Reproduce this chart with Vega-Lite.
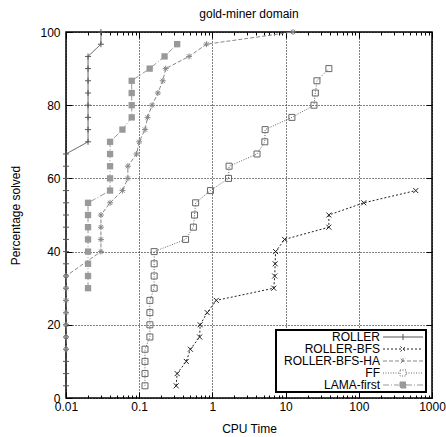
{
  "$schema": "https://vega.github.io/schema/vega-lite/v6.json",
  "width": 366,
  "height": 366,
  "autosize": {"type": "none"},
  "padding": {"left": 66, "top": 32, "right": 14, "bottom": 39},
  "background": "white",
  "title": {"text": "gold-miner domain", "fontSize": 12, "font": "Liberation Sans", "fontWeight": "normal", "color": "black", "offset": 5},
  "config": {
    "view": {"stroke": "black", "strokeWidth": 1.5},
    "axis": {"labelFont": "Liberation Sans", "labelFontSize": 12, "labelColor": "black", "titleFont": "Liberation Sans", "titleFontSize": 12, "titleFontWeight": "normal", "titleColor": "black", "domain": false, "tickColor": "black", "tickWidth": 1, "gridColor": "black", "gridDash": [1, 2], "gridWidth": 1, "gridOpacity": 1},
    "legend": {"orient": "bottom-right", "offset": 6, "fillColor": "white", "strokeColor": "black", "padding": 1, "labelFont": "Liberation Sans", "labelFontSize": 12, "labelColor": "black", "symbolSize": 100, "rowPadding": 0, "symbolStrokeWidth": 1, "symbolType": "stroke"}
  },
  "data": {"values": [
    {"solver": "ROLLER", "time": 0.01, "solved": 3.33},
    {"solver": "ROLLER", "time": 0.01, "solved": 6.67},
    {"solver": "ROLLER", "time": 0.01, "solved": 10},
    {"solver": "ROLLER", "time": 0.01, "solved": 13.33},
    {"solver": "ROLLER", "time": 0.01, "solved": 16.67},
    {"solver": "ROLLER", "time": 0.01, "solved": 20},
    {"solver": "ROLLER", "time": 0.01, "solved": 23.33},
    {"solver": "ROLLER", "time": 0.01, "solved": 26.67},
    {"solver": "ROLLER", "time": 0.01, "solved": 30},
    {"solver": "ROLLER", "time": 0.01, "solved": 33.33},
    {"solver": "ROLLER", "time": 0.01, "solved": 36.67},
    {"solver": "ROLLER", "time": 0.01, "solved": 40},
    {"solver": "ROLLER", "time": 0.01, "solved": 43.33},
    {"solver": "ROLLER", "time": 0.01, "solved": 46.67},
    {"solver": "ROLLER", "time": 0.01, "solved": 50},
    {"solver": "ROLLER", "time": 0.01, "solved": 53.33},
    {"solver": "ROLLER", "time": 0.01, "solved": 56.67},
    {"solver": "ROLLER", "time": 0.01, "solved": 60},
    {"solver": "ROLLER", "time": 0.01, "solved": 63.33},
    {"solver": "ROLLER", "time": 0.01, "solved": 66.67},
    {"solver": "ROLLER", "time": 0.02, "solved": 70},
    {"solver": "ROLLER", "time": 0.02, "solved": 73.33},
    {"solver": "ROLLER", "time": 0.02, "solved": 76.67},
    {"solver": "ROLLER", "time": 0.02, "solved": 80},
    {"solver": "ROLLER", "time": 0.02, "solved": 83.33},
    {"solver": "ROLLER", "time": 0.02, "solved": 86.67},
    {"solver": "ROLLER", "time": 0.02, "solved": 90},
    {"solver": "ROLLER", "time": 0.02, "solved": 93.33},
    {"solver": "ROLLER", "time": 0.03, "solved": 96.67},
    {"solver": "ROLLER", "time": 0.03, "solved": 100},
    {"solver": "ROLLER-BFS", "time": 0.32, "solved": 3.33},
    {"solver": "ROLLER-BFS", "time": 0.33, "solved": 6.67},
    {"solver": "ROLLER-BFS", "time": 0.44, "solved": 10},
    {"solver": "ROLLER-BFS", "time": 0.5, "solved": 13.33},
    {"solver": "ROLLER-BFS", "time": 0.67, "solved": 16.67},
    {"solver": "ROLLER-BFS", "time": 0.68, "solved": 20},
    {"solver": "ROLLER-BFS", "time": 0.85, "solved": 23.33},
    {"solver": "ROLLER-BFS", "time": 1.13, "solved": 26.67},
    {"solver": "ROLLER-BFS", "time": 6.9, "solved": 30},
    {"solver": "ROLLER-BFS", "time": 7.1, "solved": 33.33},
    {"solver": "ROLLER-BFS", "time": 7.2, "solved": 36.67},
    {"solver": "ROLLER-BFS", "time": 7.3, "solved": 40},
    {"solver": "ROLLER-BFS", "time": 9.7, "solved": 43.33},
    {"solver": "ROLLER-BFS", "time": 39, "solved": 46.67},
    {"solver": "ROLLER-BFS", "time": 39, "solved": 50},
    {"solver": "ROLLER-BFS", "time": 117, "solved": 53.33},
    {"solver": "ROLLER-BFS", "time": 600, "solved": 56.67},
    {"solver": "ROLLER-BFS-HA", "time": 0.01, "solved": 13.33},
    {"solver": "ROLLER-BFS-HA", "time": 0.01, "solved": 16.67},
    {"solver": "ROLLER-BFS-HA", "time": 0.01, "solved": 20},
    {"solver": "ROLLER-BFS-HA", "time": 0.01, "solved": 23.33},
    {"solver": "ROLLER-BFS-HA", "time": 0.01, "solved": 26.67},
    {"solver": "ROLLER-BFS-HA", "time": 0.01, "solved": 30},
    {"solver": "ROLLER-BFS-HA", "time": 0.01, "solved": 33.33},
    {"solver": "ROLLER-BFS-HA", "time": 0.03, "solved": 40},
    {"solver": "ROLLER-BFS-HA", "time": 0.03, "solved": 43.33},
    {"solver": "ROLLER-BFS-HA", "time": 0.03, "solved": 46.67},
    {"solver": "ROLLER-BFS-HA", "time": 0.03, "solved": 50},
    {"solver": "ROLLER-BFS-HA", "time": 0.04, "solved": 53.33},
    {"solver": "ROLLER-BFS-HA", "time": 0.059, "solved": 56.67},
    {"solver": "ROLLER-BFS-HA", "time": 0.07, "solved": 60},
    {"solver": "ROLLER-BFS-HA", "time": 0.07, "solved": 63.33},
    {"solver": "ROLLER-BFS-HA", "time": 0.092, "solved": 66.67},
    {"solver": "ROLLER-BFS-HA", "time": 0.1, "solved": 70},
    {"solver": "ROLLER-BFS-HA", "time": 0.12, "solved": 73.33},
    {"solver": "ROLLER-BFS-HA", "time": 0.13, "solved": 76.67},
    {"solver": "ROLLER-BFS-HA", "time": 0.15, "solved": 80},
    {"solver": "ROLLER-BFS-HA", "time": 0.18, "solved": 83.33},
    {"solver": "ROLLER-BFS-HA", "time": 0.21, "solved": 86.67},
    {"solver": "ROLLER-BFS-HA", "time": 0.23, "solved": 90},
    {"solver": "ROLLER-BFS-HA", "time": 0.48, "solved": 93.33},
    {"solver": "ROLLER-BFS-HA", "time": 0.83, "solved": 96.67},
    {"solver": "ROLLER-BFS-HA", "time": 12.6, "solved": 100},
    {"solver": "FF", "time": 0.12, "solved": 3.33},
    {"solver": "FF", "time": 0.12, "solved": 6.67},
    {"solver": "FF", "time": 0.12, "solved": 10},
    {"solver": "FF", "time": 0.12, "solved": 13.33},
    {"solver": "FF", "time": 0.14, "solved": 16.67},
    {"solver": "FF", "time": 0.14, "solved": 20},
    {"solver": "FF", "time": 0.14, "solved": 23.33},
    {"solver": "FF", "time": 0.14, "solved": 26.67},
    {"solver": "FF", "time": 0.16, "solved": 30},
    {"solver": "FF", "time": 0.16, "solved": 33.33},
    {"solver": "FF", "time": 0.16, "solved": 36.67},
    {"solver": "FF", "time": 0.16, "solved": 40},
    {"solver": "FF", "time": 0.43, "solved": 43.33},
    {"solver": "FF", "time": 0.55, "solved": 46.67},
    {"solver": "FF", "time": 0.57, "solved": 50},
    {"solver": "FF", "time": 0.59, "solved": 53.33},
    {"solver": "FF", "time": 0.94, "solved": 56.67},
    {"solver": "FF", "time": 1.66, "solved": 60},
    {"solver": "FF", "time": 1.69, "solved": 63.33},
    {"solver": "FF", "time": 4.07, "solved": 66.67},
    {"solver": "FF", "time": 5.2, "solved": 70},
    {"solver": "FF", "time": 5.25, "solved": 73.33},
    {"solver": "FF", "time": 12.2, "solved": 76.67},
    {"solver": "FF", "time": 24.4, "solved": 80},
    {"solver": "FF", "time": 25.5, "solved": 83.33},
    {"solver": "FF", "time": 26.8, "solved": 86.67},
    {"solver": "FF", "time": 39, "solved": 90},
    {"solver": "LAMA-first", "time": 0.02, "solved": 30},
    {"solver": "LAMA-first", "time": 0.02, "solved": 33.33},
    {"solver": "LAMA-first", "time": 0.02, "solved": 36.67},
    {"solver": "LAMA-first", "time": 0.02, "solved": 40},
    {"solver": "LAMA-first", "time": 0.02, "solved": 43.33},
    {"solver": "LAMA-first", "time": 0.02, "solved": 46.67},
    {"solver": "LAMA-first", "time": 0.02, "solved": 50},
    {"solver": "LAMA-first", "time": 0.02, "solved": 53.33},
    {"solver": "LAMA-first", "time": 0.04, "solved": 56.67},
    {"solver": "LAMA-first", "time": 0.04, "solved": 60},
    {"solver": "LAMA-first", "time": 0.04, "solved": 63.33},
    {"solver": "LAMA-first", "time": 0.04, "solved": 66.67},
    {"solver": "LAMA-first", "time": 0.04, "solved": 70},
    {"solver": "LAMA-first", "time": 0.059, "solved": 73.33},
    {"solver": "LAMA-first", "time": 0.079, "solved": 76.67},
    {"solver": "LAMA-first", "time": 0.079, "solved": 80},
    {"solver": "LAMA-first", "time": 0.079, "solved": 83.33},
    {"solver": "LAMA-first", "time": 0.079, "solved": 86.67},
    {"solver": "LAMA-first", "time": 0.139, "solved": 90},
    {"solver": "LAMA-first", "time": 0.222, "solved": 93.33},
    {"solver": "LAMA-first", "time": 0.33, "solved": 96.67}
  ]},
  "layer": [
    {
      "mark": {"type": "line", "strokeWidth": 1, "clip": true},
      "encoding": {
        "x": {"field": "time", "type": "quantitative", "scale": {"type": "log", "domain": [0.01, 1000], "nice": false},
          "axis": {"orient": "bottom", "title": "CPU Time", "titlePadding": 8,
            "values": [0.01,0.02,0.03,0.04,0.05,0.06,0.07,0.08,0.09,0.1,0.2,0.3,0.4,0.5,0.6,0.7,0.8,0.9,1,2,3,4,5,6,7,8,9,10,20,30,40,50,60,70,80,90,100,200,300,400,500,600,700,800,900,1000],
            "labelExpr": "abs(log(datum.value)/LN10 - round(log(datum.value)/LN10)) < 0.001 ? format(datum.value, '~g') : ''",
            "labelPadding": 9.5, "labelFlush": false, "labelOverlap": false,
            "tickSize": {"condition": {"test": "abs(log(datum.value)/LN10 - round(log(datum.value)/LN10)) < 0.001", "value": -6}, "value": -3},
            "grid": true,
            "gridOpacity": {"condition": {"test": "abs(log(datum.value)/LN10 - round(log(datum.value)/LN10)) < 0.001", "value": 1}, "value": 0}}},
        "y": {"field": "solved", "type": "quantitative", "scale": {"domain": [0, 100], "nice": false},
          "axis": {"orient": "left", "title": "Percentage solved", "titlePadding": 17, "values": [0, 20, 40, 60, 80, 100], "tickSize": -6, "labelPadding": 12, "grid": true}},
        "order": {"field": "solved", "type": "quantitative"},
        "color": {"field": "solver", "type": "nominal",
          "scale": {"domain": ["ROLLER", "ROLLER-BFS", "ROLLER-BFS-HA", "FF", "LAMA-first"], "range": ["#555555", "#222222", "#888888", "#666666", "#999999"]},
          "legend": {"title": null,
            "encode": {
              "symbols": {"update": {
                "x": {"value": 126},
                "size": {"value": 100},
                "shape": {"signal": "datum.value === 'ROLLER' ? 'M-4,0L4,0M0,-0.6L0,0.6' : datum.value === 'ROLLER-BFS' ? 'M-4,0L4,0M-0.5,-0.5L0.5,0.5M-0.5,0.5L0.5,-0.5' : datum.value === 'ROLLER-BFS-HA' ? 'M-4,0L4,0M0,-0.6L0,0.6M-0.45,-0.45L0.45,0.45M-0.45,0.45L0.45,-0.45' : 'M-4,0L-0.6,0M0.6,0L4,0M-0.6,-0.6L0.6,-0.6L0.6,0.6L-0.6,0.6Z'"},
                "fill": {"signal": "datum.value === 'LAMA-first' ? '#999999' : 'transparent'"}
              }},
              "labels": {"update": {"x": {"value": 103}, "align": {"value": "right"}}},
              "legend": {"update": {"strokeWidth": {"value": 2}}}
            }}},
        "strokeDash": {"field": "solver", "type": "nominal",
          "scale": {"domain": ["ROLLER", "ROLLER-BFS", "ROLLER-BFS-HA", "FF", "LAMA-first"], "range": [[1, 0], [2, 2], [4, 2], [1, 1.5], [6, 2, 1, 2]]},
          "legend": {"title": null}}
      }
    },
    {
      "transform": [{"filter": "datum.solver === 'ROLLER'"}],
      "mark": {"type": "point", "opacity": 1, "strokeWidth": 1, "clip": false, "filled": false, "color": "#555555", "size": 36, "shape": "M-1,0H1M0,-1V1"},
      "encoding": {
        "x": {"field": "time", "type": "quantitative",
          "axis": {"orient": "top", "title": null, "labels": false, "grid": false,
            "values": [0.01,0.02,0.03,0.04,0.05,0.06,0.07,0.08,0.09,0.1,0.2,0.3,0.4,0.5,0.6,0.7,0.8,0.9,1,2,3,4,5,6,7,8,9,10,20,30,40,50,60,70,80,90,100,200,300,400,500,600,700,800,900,1000],
            "tickSize": {"condition": {"test": "abs(log(datum.value)/LN10 - round(log(datum.value)/LN10)) < 0.001", "value": -6}, "value": -3}}},
        "y": {"field": "solved", "type": "quantitative",
          "axis": {"orient": "right", "title": null, "labels": false, "grid": false, "values": [0, 20, 40, 60, 80, 100], "tickSize": -6}}
      }
    },
    {
      "transform": [{"filter": "datum.solver === 'ROLLER-BFS'"}],
      "mark": {"type": "point", "opacity": 1, "strokeWidth": 1, "clip": false, "filled": false, "color": "#222222", "size": 25, "shape": "M-1,-1L1,1M-1,1L1,-1"},
      "encoding": {
        "x": {"field": "time", "type": "quantitative", "axis": null},
        "y": {"field": "solved", "type": "quantitative", "axis": null}
      }
    },
    {
      "transform": [{"filter": "datum.solver === 'ROLLER-BFS-HA'"}],
      "mark": {"type": "point", "opacity": 1, "strokeWidth": 1, "clip": false, "filled": false, "color": "#888888", "size": 36, "shape": "M-1,0H1M0,-1V1M-0.7,-0.7L0.7,0.7M-0.7,0.7L0.7,-0.7"},
      "encoding": {
        "x": {"field": "time", "type": "quantitative", "axis": null},
        "y": {"field": "solved", "type": "quantitative", "axis": null}
      }
    },
    {
      "transform": [{"filter": "datum.solver === 'FF'"}],
      "mark": {"type": "point", "opacity": 1, "strokeWidth": 1, "clip": false, "filled": false, "color": "#666666", "size": 36, "shape": "square"},
      "encoding": {
        "x": {"field": "time", "type": "quantitative", "axis": null},
        "y": {"field": "solved", "type": "quantitative", "axis": null}
      }
    },
    {
      "transform": [{"filter": "datum.solver === 'LAMA-first'"}],
      "mark": {"type": "point", "opacity": 1, "strokeWidth": 1, "clip": false, "filled": true, "color": "#999999", "size": 40, "shape": "square"},
      "encoding": {
        "x": {"field": "time", "type": "quantitative", "axis": null},
        "y": {"field": "solved", "type": "quantitative", "axis": null}
      }
    }
  ],
  "resolve": {"axis": {"x": "independent", "y": "independent"}}
}
